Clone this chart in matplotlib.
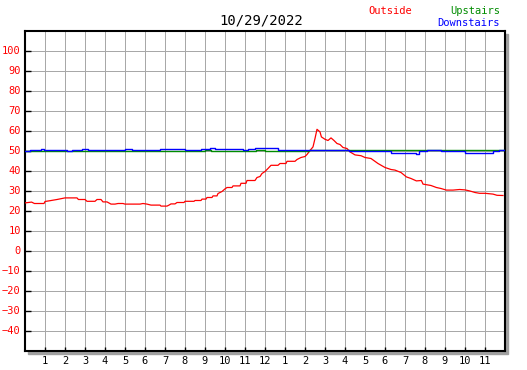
import matplotlib
matplotlib.use("Agg")
import matplotlib.pyplot as plt
from matplotlib.patches import Rectangle

# Outside (red) : heure, température
out_h = [0, 0.33, 0.47, 0.95, 1.0, 1.25, 1.6, 2.0, 2.6, 2.67, 3.0, 3.1, 3.5, 3.6, 3.8, 3.9,
         4.1, 4.3, 4.5, 4.65, 4.9, 5.0, 5.75, 5.9, 6.1, 6.3, 6.75, 6.8, 7.1, 7.2, 7.3, 7.5,
         7.6, 7.95, 8.0, 8.45, 8.5, 8.8, 8.85, 9.05, 9.1, 9.35, 9.4, 9.6, 9.65, 9.85, 10.0,
         10.1, 10.35, 10.4, 10.75, 10.8, 11.05, 11.1, 11.5, 11.6, 11.75, 11.85, 12.0, 12.15,
         12.3, 12.65, 12.75, 13.05, 13.1, 13.5, 13.6, 13.8, 14.0, 14.1, 14.25, 14.4, 14.5,
         14.6, 14.75, 14.82, 15.0, 15.15, 15.3, 15.45, 15.6, 15.75, 15.9, 16.1, 16.25, 16.5,
         16.8, 17.0, 17.3, 17.65, 18.0, 18.3, 18.5, 18.8, 19.07, 19.3, 19.57, 19.82, 19.9,
         20.3, 20.57, 20.8, 21.07, 21.4, 21.73, 22.0, 22.23, 22.5, 22.73, 23.0, 23.4, 23.6, 23.9]
out_t = [23.8, 24.2, 23.5, 23.5, 24.5, 24.9, 25.5, 26.3, 26.3, 25.5, 25.5, 24.6, 24.6, 25.5,
         25.5, 24.3, 24.3, 23.2, 23.2, 23.5, 23.5, 23.2, 23.2, 23.5, 23.2, 22.7, 22.7, 22.2,
         22.2, 22.7, 23.3, 23.3, 24.0, 24.0, 24.6, 24.6, 25.0, 25.0, 25.7, 25.7, 26.5, 26.5,
         27.3, 27.3, 28.5, 29.5, 30.8, 31.5, 31.5, 32.3, 32.3, 33.6, 33.6, 35.0, 35.0, 36.5,
         37.0, 38.5, 39.5, 41.0, 42.6, 42.6, 43.5, 43.5, 44.6, 44.6, 45.5, 46.5, 47.0, 48.0,
         50.0, 51.8, 56.0, 60.6, 59.3, 56.8, 55.6, 55.0, 56.3, 55.0, 53.5, 53.0, 51.5, 51.0,
         49.3, 47.8, 47.4, 46.5, 46.0, 43.5, 41.5, 40.5, 40.2, 39.0, 36.8, 36.0, 34.8, 35.0,
         33.2, 32.5, 31.5, 31.0, 30.2, 30.2, 30.5, 30.3, 29.8, 29.0, 28.6, 28.6, 28.2, 27.6, 27.5]

# Upstairs (green) : paliers
up_h = [0, 9.0, 9.3, 11.55, 12.0, 14.2, 17.2, 24]
up_t = [49.9, 50.5, 49.9, 50.5, 49.9, 50.4, 50.1, 50.1]

# Downstairs (blue) : paliers
down_h = [0, 0.25, 0.47, 0.8, 0.93, 1.17, 2.08, 2.33, 2.58, 2.83, 3.17, 3.58, 4.92, 5.0,
          5.33, 5.5, 6.73, 6.98, 7.57, 7.98, 8.82, 8.98, 9.23, 9.48, 9.73, 10.9, 11.15,
          11.48, 12.65, 14.2, 16.2, 16.7, 18.3, 19.57, 19.7, 20.1, 20.3, 20.8, 22.0, 23.4,
          23.7, 24]
down_t = [49.7, 50.2, 50.5, 51.0, 50.5, 50.2, 49.7, 50.2, 50.5, 51.0, 50.5, 50.2, 50.5,
          51.0, 50.5, 50.2, 50.6, 51.0, 50.6, 50.2, 50.6, 51.0, 51.5, 51.0, 50.6, 50.2,
          50.6, 51.3, 50.5, 50.2, 49.9, 49.6, 49.0, 48.5, 49.6, 50.5, 50.2, 49.6, 49.0,
          49.6, 50.5, 50.5]

hour_ticks = list(range(1, 24))
hour_labels = [str(h) for h in range(1, 13)] + [str(h) for h in range(1, 12)]
temp_ticks = list(range(-40, 101, 10))

W, H = 527, 370
fig = plt.figure(figsize=(W / 100, H / 100), dpi=100)
ax = fig.add_axes([25 / W, (H - 350.5) / H, 480 / W, 320 / H])

# ombre grise derrière le cadre
fig.patches.append(Rectangle(((25 + 3) / W, (H - 353.5) / H), 480 / W, 320 / H,
                             transform=fig.transFigure, color="#a0a0a0", zorder=-5))
ax.set_facecolor("white")

ax.plot(out_h, out_t, color="#ff0000", lw=0.9, zorder=3)
ax.plot(up_h, up_t, color="#008c00", lw=1.0, drawstyle="steps-post", zorder=3)
ax.plot(down_h, down_t, color="#0000ff", lw=1.0, drawstyle="steps-post", zorder=4)

ax.set_xlim(0, 24)
ax.set_ylim(-50, 110)
ax.set_xticks(hour_ticks)
ax.set_xticklabels(hour_labels)
ax.set_yticks(temp_ticks)
ax.grid(which="major", color="#a8a8a8", lw=0.72)
ax.set_axisbelow(True)

ax.tick_params(axis="x", direction="in", length=3, width=1, pad=4,
               labelsize=7.5, labelfontfamily="DejaVu Sans Mono", colors="black")
ax.tick_params(axis="y", direction="in", length=4, width=1, pad=3,
               labelsize=7.5, labelfontfamily="DejaVu Sans Mono", colors="black",
               labelcolor="#ff0000")
for s in ax.spines.values():
    s.set_linewidth(1.5)
    s.set_color("black")

fig.text(261 / W, 1 - 20 / H, "10/29/2022", ha="center", va="center",
         fontsize=10, family="DejaVu Sans Mono")
fig.text(390 / W, 1 - 11 / H, "Outside", ha="center", va="center",
         fontsize=7.5, family="DejaVu Sans Mono", color="#ff0000")
fig.text(500 / W, 1 - 11 / H, "Upstairs", ha="right", va="center",
         fontsize=7.5, family="DejaVu Sans Mono", color="#008c00")
fig.text(500 / W, 1 - 23 / H, "Downstairs", ha="right", va="center",
         fontsize=7.5, family="DejaVu Sans Mono", color="#0000ff")

fig.savefig("out.png", dpi=100)
